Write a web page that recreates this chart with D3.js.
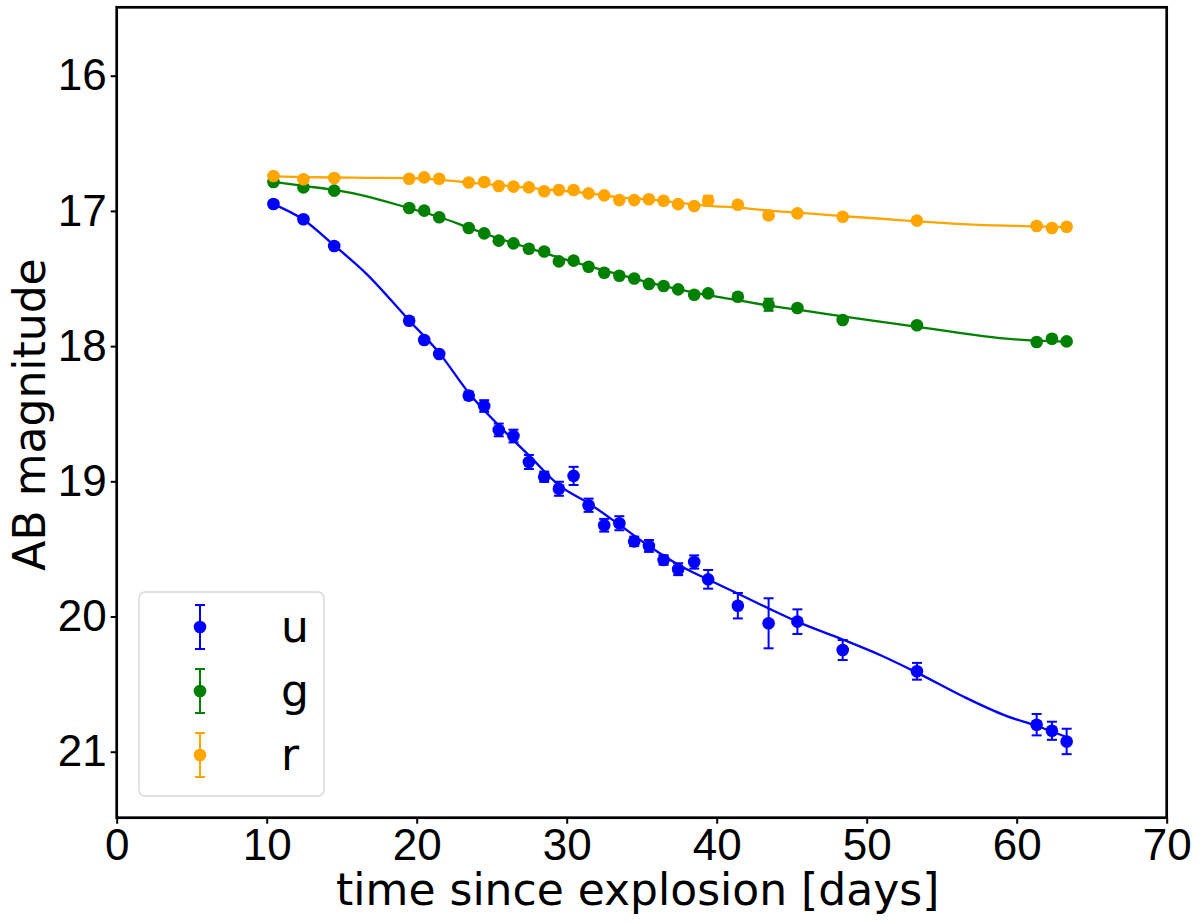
<!DOCTYPE html>
<html lang="en">
<head>
    <meta charset="UTF-8">
    <title>Light curve</title>
    <script src="https://d3js.org/d3.v7.min.js"></script>
    <style>
        body {
            margin: 0;
            padding: 0;
            background: #fff;
        }
        svg {
            display: block;
            font-family: "DejaVu Sans", sans-serif;
        }
        .axis text {
            font-size: 44px;
            fill: #000;
        }
        .axis line {
            stroke: #000;
            stroke-width: 2px;
        }
    </style>
</head>
<body>
    <svg width="1200" height="922"></svg>

    <script>
        // observation epochs (days since explosion), shared by all bands
        const days = [10.45, 12.45, 14.5, 19.5, 20.5, 21.5, 23.47, 24.5, 25.47, 26.45, 27.48, 28.5, 29.48, 30.46, 31.46, 32.5, 33.51, 34.5, 35.48, 36.46, 37.43, 38.5, 39.43, 41.41, 43.46, 45.38, 48.4, 53.35, 61.33, 62.35, 63.33];

        const uMag = [16.949, 17.062, 17.26, 17.812, 17.955, 18.058, 18.366, 18.443, 18.62, 18.665, 18.857, 18.966, 19.055, 18.96, 19.177, 19.325, 19.31, 19.444, 19.478, 19.582, 19.65, 19.597, 19.725, 19.92, 20.05, 20.038, 20.248, 20.405, 20.80, 20.845, 20.924];
        const uErr = [0.02, 0.02, 0.02, 0.02, 0.02, 0.02, 0.03, 0.043, 0.047, 0.047, 0.052, 0.038, 0.052, 0.067, 0.049, 0.047, 0.052, 0.035, 0.044, 0.035, 0.044, 0.049, 0.069, 0.094, 0.185, 0.091, 0.074, 0.062, 0.079, 0.067, 0.094];

        const gMag = [16.786, 16.826, 16.85, 16.979, 16.998, 17.047, 17.126, 17.166, 17.22, 17.24, 17.28, 17.30, 17.373, 17.368, 17.413, 17.457, 17.48, 17.50, 17.54, 17.555, 17.58, 17.62, 17.61, 17.635, 17.694, 17.718, 17.807, 17.846, 17.97, 17.945, 17.965];
        const gErr = [0.015, 0.015, 0.015, 0.015, 0.015, 0.015, 0.015, 0.015, 0.015, 0.015, 0.015, 0.015, 0.015, 0.015, 0.015, 0.015, 0.015, 0.015, 0.015, 0.015, 0.015, 0.015, 0.02, 0.025, 0.045, 0.02, 0.015, 0.015, 0.015, 0.015, 0.015];

        const rMag = [16.742, 16.766, 16.757, 16.762, 16.752, 16.762, 16.79, 16.786, 16.816, 16.82, 16.826, 16.855, 16.845, 16.845, 16.87, 16.885, 16.92, 16.92, 16.914, 16.925, 16.95, 16.964, 16.925, 16.954, 17.033, 17.018, 17.043, 17.072, 17.112, 17.126, 17.117];
        const rErr = [0.012, 0.012, 0.012, 0.012, 0.012, 0.012, 0.012, 0.012, 0.012, 0.012, 0.012, 0.012, 0.012, 0.012, 0.012, 0.012, 0.012, 0.012, 0.012, 0.012, 0.012, 0.012, 0.037, 0.015, 0.025, 0.015, 0.012, 0.012, 0.012, 0.012, 0.012];

        // smooth fit curves
        const modelDays = [10.45, 12.45, 14.5, 16.6, 19.5, 21.5, 23.5, 25.5, 27.5, 29.5, 31.5, 33.5, 35.5, 37.5, 39.5, 41.4, 43.45, 45.4, 48.4, 51, 53.35, 56.4, 59.3, 61.35, 63.35];
        const uModel = [16.95, 17.065, 17.255, 17.46, 17.81, 18.05, 18.35, 18.59, 18.81, 19.03, 19.165, 19.32, 19.48, 19.62, 19.73, 19.83, 19.94, 20.04, 20.17, 20.29, 20.415, 20.59, 20.735, 20.81, 20.893];
        const gModel = [16.785, 16.815, 16.845, 16.89, 16.98, 17.045, 17.125, 17.205, 17.275, 17.345, 17.41, 17.47, 17.53, 17.58, 17.625, 17.66, 17.70, 17.73, 17.78, 17.82, 17.857, 17.905, 17.945, 17.96, 17.967];
        const rModel = [16.745, 16.75, 16.753, 16.755, 16.758, 16.768, 16.79, 16.81, 16.83, 16.85, 16.87, 16.9, 16.915, 16.94, 16.962, 16.975, 16.998, 17.013, 17.038, 17.058, 17.077, 17.097, 17.109, 17.114, 17.12];

        const bands = ["u", "g", "r"];
        const bandColors = ["blue", "green", "orange"];

        const xTicks = [0, 10, 20, 30, 40, 50, 60, 70];
        const yTicks = [16, 17, 18, 19, 20, 21];

        const series = [
            {name: bands[0], color: bandColors[0], mag: uMag, err: uErr, model: uModel},
            {name: bands[1], color: bandColors[1], mag: gMag, err: gErr, model: gModel},
            {name: bands[2], color: bandColors[2], mag: rMag, err: rErr, model: rModel}
        ];

        const plotLeft = 116.7, plotRight = 1166.7, plotTop = 7.3, plotBottom = 817.7;

        const svg = d3.select("svg");

        const x = d3.scaleLinear().domain([0, 70]).range([plotLeft, plotRight]);
        const y = d3.scaleLinear().domain([15.494, 21.488]).range([plotTop, plotBottom]);

        const plot = svg.append("g");

        const line = d3.line()
            .x(d => x(d[0]))
            .y(d => y(d[1]))
            .curve(d3.curveMonotoneX);

        series.forEach(s => {
            const pts = days.map((t, i) => ({t: t, m: s.mag[i], e: s.err[i]}));
            const g = plot.append("g");

            // error bars
            g.selectAll(".eb")
                .data(pts)
                .enter().append("line")
                .attr("x1", d => x(d.t))
                .attr("x2", d => x(d.t))
                .attr("y1", d => y(d.m - d.e))
                .attr("y2", d => y(d.m + d.e))
                .attr("stroke", s.color)
                .attr("stroke-width", 2);

            [-1, 1].forEach(sign => {
                g.selectAll(".cap" + sign)
                    .data(pts)
                    .enter().append("line")
                    .attr("x1", d => x(d.t) - 5)
                    .attr("x2", d => x(d.t) + 5)
                    .attr("y1", d => y(d.m + sign * d.e))
                    .attr("y2", d => y(d.m + sign * d.e))
                    .attr("stroke", s.color)
                    .attr("stroke-width", 2);
            });

            // fit curve
            g.append("path")
                .datum(modelDays.map((t, i) => [t, s.model[i]]))
                .attr("d", line)
                .attr("fill", "none")
                .attr("stroke", s.color)
                .attr("stroke-width", 2.3);

            // markers
            g.selectAll("circle")
                .data(pts)
                .enter().append("circle")
                .attr("cx", d => x(d.t))
                .attr("cy", d => y(d.m))
                .attr("r", 6.3)
                .attr("fill", s.color);
        });

        // axes
        const xAxis = svg.append("g")
            .attr("class", "axis")
            .attr("transform", `translate(0,${plotBottom})`)
            .call(d3.axisBottom(x).tickValues(xTicks).tickSize(6).tickPadding(5).tickFormat(d3.format("d")));

        const yAxis = svg.append("g")
            .attr("class", "axis")
            .attr("transform", `translate(${plotLeft},0)`)
            .call(d3.axisLeft(y).tickValues(yTicks).tickSize(6).tickPadding(4).tickFormat(d3.format("d")));

        xAxis.select(".domain").remove();
        yAxis.select(".domain").remove();

        // frame
        svg.append("rect")
            .attr("x", plotLeft)
            .attr("y", plotTop)
            .attr("width", plotRight - plotLeft)
            .attr("height", plotBottom - plotTop)
            .attr("fill", "none")
            .attr("stroke", "#000")
            .attr("stroke-width", 2.7);

        // axis labels
        svg.append("text")
            .attr("x", (plotLeft + plotRight) / 2 - 4)
            .attr("y", 905)
            .attr("text-anchor", "middle")
            .attr("font-size", 44)
            .text("time since explosion [days]");

        svg.append("text")
            .attr("transform", `translate(45,${(plotTop + plotBottom) / 2 + 2}) rotate(-90)`)
            .attr("text-anchor", "middle")
            .attr("font-size", 44)
            .text("AB magnitude");

        // legend
        const legend = svg.append("g");
        legend.append("rect")
            .attr("x", 139)
            .attr("y", 592)
            .attr("width", 185)
            .attr("height", 204)
            .attr("rx", 6)
            .attr("fill", "#fff")
            .attr("fill-opacity", 0.8)
            .attr("stroke", "#d6d6d6")
            .attr("stroke-width", 1.3);

        const legendY = [627, 691, 755];
        series.forEach((s, i) => {
            const cy = legendY[i];
            legend.append("line")
                .attr("x1", 200).attr("x2", 200)
                .attr("y1", cy - 22).attr("y2", cy + 22)
                .attr("stroke", s.color).attr("stroke-width", 2);
            [-22, 22].forEach(off => {
                legend.append("line")
                    .attr("x1", 195).attr("x2", 205)
                    .attr("y1", cy + off).attr("y2", cy + off)
                    .attr("stroke", s.color).attr("stroke-width", 2);
            });
            legend.append("circle")
                .attr("cx", 200).attr("cy", cy).attr("r", 6.3)
                .attr("fill", s.color);
            legend.append("text")
                .attr("x", 281)
                .attr("y", cy + 15)
                .attr("font-size", 44)
                .text(s.name);
        });
    </script>
</body>
</html>
